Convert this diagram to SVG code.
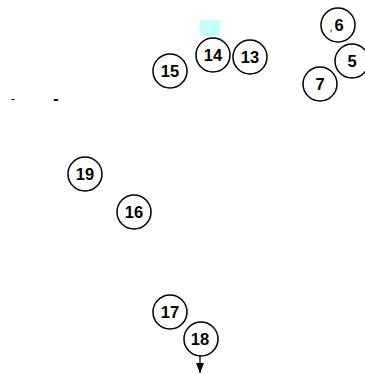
<svg xmlns="http://www.w3.org/2000/svg" width="365" height="374" viewBox="0 0 365 374">
<style>
.n circle{fill:#fff;stroke:#000;stroke-width:1.5}
.n text{font-family:"Liberation Sans",Arial,sans-serif;font-size:16.5px;font-weight:bold;text-anchor:middle;fill:#000}
.t{font-family:"Liberation Sans",Arial,sans-serif;fill:#000}
</style>
<defs>
<marker id="ah" markerWidth="10" markerHeight="8" refX="10" refY="4" orient="auto" markerUnits="userSpaceOnUse" viewBox="0 0 10 8">
<path d="M0,0 L10,4 L0,8 Z" fill="#000"/>
</marker>
</defs>
<rect x="200" y="20" width="20" height="16" fill="#c4ffff"/>
<g id="connectors">
<line x1="200" y1="348" x2="200" y2="373" stroke="#000" stroke-width="1.3" marker-end="url(#ah)"/>
</g>
<g id="n14" class="n"><circle cx="213" cy="55" r="17"/><text x="213" y="61">14</text></g>
<g id="n13" class="n"><circle cx="250" cy="57" r="17"/><text x="250" y="63">13</text></g>
<g id="n15" class="n"><circle cx="170" cy="71" r="17"/><text x="170" y="77">15</text></g>
<g id="n6" class="n"><circle cx="338" cy="25" r="17"/><text x="339" y="31">6</text></g>
<text class="t" x="331" y="31" font-size="11" text-anchor="middle">,</text>
<g id="n5" class="n"><circle cx="352" cy="61" r="17"/><text x="352" y="67">5</text></g>
<g id="n7" class="n"><circle cx="320" cy="84" r="17"/><text x="320" y="90">7</text></g>
<g id="n19" class="n"><circle cx="85" cy="174" r="17"/><text x="85" y="180">19</text></g>
<g id="n16" class="n"><circle cx="134" cy="212" r="17"/><text x="134" y="218">16</text></g>
<g id="n17" class="n"><circle cx="170" cy="312" r="17"/><text x="170" y="318">17</text></g>
<g id="n18" class="n"><circle cx="201" cy="339" r="17"/><text x="200" y="345">18</text></g>
<text class="t" x="13" y="103" font-size="13" text-anchor="middle">-</text>
<text class="t" x="56" y="104" font-size="16" font-weight="bold" text-anchor="middle">-</text>
</svg>
